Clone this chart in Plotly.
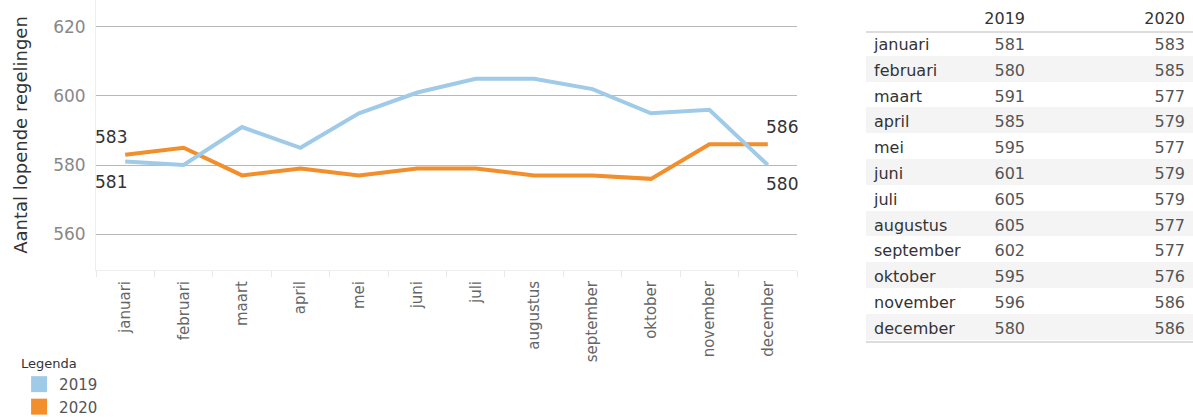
import plotly.graph_objects as go

months = ['januari', 'februari', 'maart', 'april', 'mei', 'juni', 'juli',
          'augustus', 'september', 'oktober', 'november', 'december']
v2019 = [581, 580, 591, 585, 595, 601, 605, 605, 602, 595, 596, 580]
v2020 = [583, 585, 577, 579, 577, 579, 579, 577, 577, 576, 586, 586]
years = ['2019', '2020']
colors = {'2019': '#a0cbe8', '2020': '#f28e2b'}

W, H = 1193, 417
FONT = 'DejaVu Sans'

fig = go.Figure()

# lines
fig.add_trace(go.Scatter(x=months, y=v2020, mode='lines', line=dict(color=colors['2020'], width=4),
                         showlegend=False, hoverinfo='skip'))
fig.add_trace(go.Scatter(x=months, y=v2019, mode='lines', line=dict(color=colors['2019'], width=4),
                         showlegend=False, hoverinfo='skip'))

# legend swatches
for yr in years:
    fig.add_trace(go.Scatter(x=[None], y=[None], mode='markers', name=yr,
                             marker=dict(symbol='square', size=18, color=colors[yr])))

# end labels
lab_font = dict(family=FONT, size=17, color='#333333')
fig.add_annotation(x=months[0], y=v2020[0], text=str(v2020[0]), showarrow=False,
                   xanchor='center', yanchor='bottom', xshift=-14, yshift=6, font=lab_font)
fig.add_annotation(x=months[0], y=v2019[0], text=str(v2019[0]), showarrow=False,
                   xanchor='center', yanchor='top', xshift=-14, yshift=-8, font=lab_font)
fig.add_annotation(x=months[-1], y=v2020[-1], text=str(v2020[-1]), showarrow=False,
                   xanchor='center', yanchor='bottom', xshift=14, yshift=5, font=lab_font)
fig.add_annotation(x=months[-1], y=v2019[-1], text=str(v2019[-1]), showarrow=False,
                   xanchor='center', yanchor='top', xshift=14, yshift=-7, font=lab_font)

# table
row_fill = ['#ffffff' if i % 2 == 0 else '#f4f4f4' for i in range(len(months))]
fig.add_trace(go.Table(
    domain=dict(x=[866 / W, 1.0], y=[1 - 370 / H, 1 - 4 / H]),
    columnwidth=[110, 57, 160],
    header=dict(values=['', years[0], years[1]], align=['left', 'right', 'right'],
                height=26, fill=dict(color='white'), line=dict(width=0, color='white'),
                font=dict(family=FONT, size=16, color='#333333')),
    cells=dict(values=[months, v2019, v2020], align=['left', 'right', 'right'],
               height=25.8, fill=dict(color=[row_fill, row_fill, row_fill]),
               line=dict(width=0, color='white'),
               font=dict(family=FONT, size=16, color=['#333333', '#555555', '#555555'])),
))

fig.add_shape(type='line', xref='paper', yref='paper', x0=866 / W, x1=1.0,
              y0=1 - 32 / H, y1=1 - 32 / H, line=dict(color='#dddddd', width=2))
fig.add_shape(type='line', xref='paper', yref='paper', x0=866 / W, x1=1.0,
              y0=1 - 342 / H, y1=1 - 342 / H, line=dict(color='#dddddd', width=2))

fig.update_layout(
    width=W, height=H,
    margin=dict(l=0, r=0, t=0, b=0, autoexpand=False),
    paper_bgcolor='white', plot_bgcolor='white',
    font=dict(family=FONT, color='#333333'),
    xaxis=dict(domain=[96 / W, 797 / W], type='category', categoryorder='array', categoryarray=months,
               range=[-0.5, 11.5], tickangle=-90, showgrid=False, zeroline=False,
               showline=True, linecolor='#eeeeee', linewidth=1,
               ticks='outside', tickson='boundaries', ticklen=6, tickcolor='#e8e8e8',
               ticklabelstandoff=4,
               tickfont=dict(family=FONT, size=15, color='#666666')),
    yaxis=dict(domain=[1 - 270 / H, 1.0], range=[549.6, 627.8], tickvals=[560, 580, 600, 620],
               showgrid=True, gridcolor='#b8b8b8', gridwidth=1, zeroline=False,
               showline=True, linecolor='#eeeeee', linewidth=1, ticks='',
               ticklabelstandoff=6,
               tickfont=dict(family=FONT, size=17, color='#888888'),
               title=dict(text='Aantal lopende regelingen', standoff=20,
                          font=dict(family=FONT, size=18, color='#333333'))),
    legend=dict(x=0.016, y=1 - 351 / H, xanchor='left', yanchor='top',
                title=dict(text='Legenda', font=dict(family=FONT, size=13, color='#333333')),
                font=dict(family=FONT, size=15, color='#555555'),
                tracegroupgap=0),
)

fig.write_html('out.html', config={'displayModeBar': False},
               post_script="document.body.style.margin='0';document.body.style.overflow='hidden';")
